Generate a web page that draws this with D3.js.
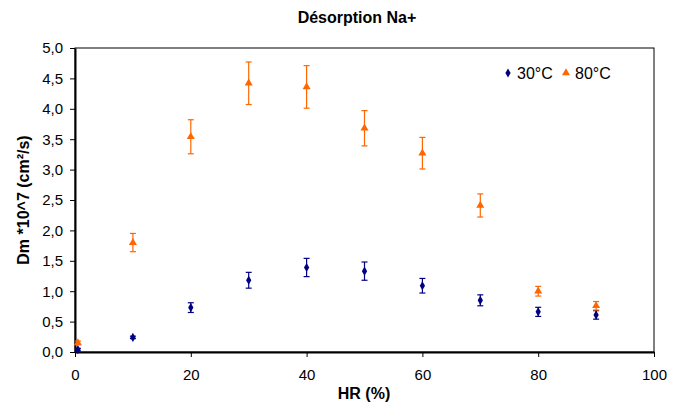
<!DOCTYPE html>
<html><head><meta charset="utf-8">
<script src="https://cdn.jsdelivr.net/npm/d3@7"></script>
<style>body{margin:0;background:#fff}svg{display:block;font-family:"Liberation Sans",Arial,sans-serif}</style>
</head><body><svg id="c" width="687" height="407"></svg>
<script>
const hr = [0.5, 10, 20, 30, 40, 50, 60, 70, 80, 90];
const s30 = [0.04, 0.24, 0.73, 1.18, 1.39, 1.33, 1.09, 0.85, 0.66, 0.61];
const e30 = [0.02, 0.02, 0.08, 0.13, 0.15, 0.15, 0.12, 0.09, 0.075, 0.07];
const s80 = [0.15, 1.80, 3.54, 4.42, 4.36, 3.68, 3.27, 2.41, 1.00, 0.76];
const e80 = [0.03, 0.15, 0.28, 0.35, 0.35, 0.29, 0.26, 0.19, 0.08, 0.07];
const xTicks = [0, 20, 40, 60, 80, 100];
const yTicks = [0, 0.5, 1, 1.5, 2, 2.5, 3, 3.5, 4, 4.5, 5];
const seriesNames = ["30°C", "80°C"];
const colors = ["#000080", "#FF6600"];

const svg = d3.select("#c");
const L = 75, R = 654, T = 48, B = 352;
const x = d3.scaleLinear().domain([0, 100]).range([L, R]);
const y = d3.scaleLinear().domain([0, 5]).range([B, T]);
const fmt = d => d3.format(".1f")(d).replace(".", ",");

svg.append("rect").attr("x", L).attr("y", T).attr("width", R - L).attr("height", B - T)
  .attr("fill", "none").attr("stroke", "#000").attr("stroke-width", 1);

const xa = svg.append("g").attr("transform", `translate(0,${B})`)
  .call(d3.axisBottom(x).tickValues(xTicks).tickSize(5).tickPadding(12).tickSizeOuter(0));
const ya = svg.append("g").attr("transform", `translate(${L},0)`)
  .call(d3.axisLeft(y).tickValues(yTicks).tickFormat(fmt).tickSize(5).tickPadding(7).tickSizeOuter(0));
[xa, ya].forEach(a => {
  a.selectAll("path").attr("stroke", "#000").attr("stroke-width", 2);
  a.selectAll("line").attr("stroke", "#000");
  a.selectAll("text").attr("font-size", 15).attr("fill", "#000")
    .attr("font-family", "'Liberation Sans', Arial, sans-serif");
});

const series = [
  {v: s30, e: e30, sym: d3.symbolDiamond, size: 24},
  {v: s80, e: e80, sym: d3.symbolTriangle, size: 28}
];
series.forEach((s, i) => {
  const g = svg.append("g");
  hr.forEach((h, j) => {
    const cx = x(h), y1 = y(s.v[j] + s.e[j]), y2 = y(s.v[j] - s.e[j]);
    g.append("line").attr("x1", cx).attr("x2", cx).attr("y1", y1).attr("y2", y2)
      .attr("stroke", colors[i]).attr("stroke-width", 1.2);
    [y1, y2].forEach(yy => g.append("line").attr("x1", cx - 3).attr("x2", cx + 3)
      .attr("y1", yy).attr("y2", yy).attr("stroke", colors[i]).attr("stroke-width", 1.2));
    g.append("path").attr("d", d3.symbol().type(s.sym).size(s.size)())
      .attr("transform", `translate(${cx},${y(s.v[j])})`).attr("fill", colors[i]);
  });
});

const legX = [508, 566];
seriesNames.forEach((n, i) => {
  svg.append("path").attr("d", d3.symbol().type(series[i].sym).size(series[i].size)())
    .attr("transform", `translate(${legX[i]},73)`).attr("fill", colors[i]);
  svg.append("text").attr("x", legX[i] + 9).attr("y", 79).attr("font-size", 16).text(n);
});

svg.append("text").attr("x", 357).attr("y", 23).attr("text-anchor", "middle")
  .attr("font-size", 16).attr("font-weight", "bold").text("Désorption Na+");
svg.append("text").attr("x", 364).attr("y", 399).attr("text-anchor", "middle")
  .attr("font-size", 16).attr("font-weight", "bold").text("HR (%)");
svg.append("text").attr("transform", "translate(29,200) rotate(-90)").attr("text-anchor", "middle")
  .attr("font-size", 16).attr("font-weight", "bold").text("Dm *10^7 (cm²/s)");
</script></body></html>
